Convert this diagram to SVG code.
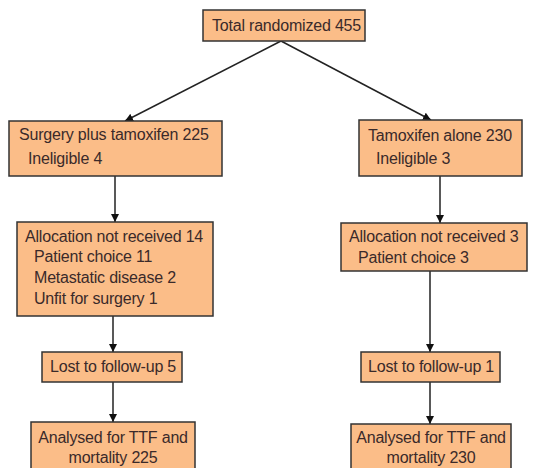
<svg xmlns="http://www.w3.org/2000/svg" width="535" height="468" viewBox="0 0 535 468">
<style>
.box{fill:#FBBD88;stroke:#333;stroke-width:1.5}
text{font-family:"Liberation Sans",Arial,sans-serif;font-size:16px;fill:#3a2a2a;letter-spacing:-0.2px}
.c{text-anchor:middle}
.ln{stroke:#222;stroke-width:1.5;fill:none;marker-end:url(#ah)}
</style>
<defs>
<marker id="ah" viewBox="0 0 10 10" refX="10" refY="5" markerWidth="8" markerHeight="8" markerUnits="userSpaceOnUse" orient="auto">
<path d="M0,0 L10,5 L0,10 z" fill="#111"/>
</marker>
</defs>
<g id="connectors">
<line class="ln" x1="281" y1="41" x2="125" y2="121"/>
<line class="ln" x1="281" y1="41" x2="431" y2="120"/>
<line class="ln" x1="115" y1="176" x2="115" y2="222"/>
<line class="ln" x1="440" y1="176" x2="440" y2="223"/>
<line class="ln" x1="113" y1="316" x2="113" y2="352"/>
<line class="ln" x1="430" y1="271" x2="430" y2="352"/>
<line class="ln" x1="113" y1="382" x2="113" y2="422"/>
<line class="ln" x1="430" y1="382" x2="430" y2="424"/>
</g>
<g id="n-total">
<rect class="box" x="203" y="10" width="162" height="31"/>
<text x="212" y="31">Total randomized 455</text>
</g>
<g id="n-surgery">
<rect class="box" x="9" y="121" width="213" height="55"/>
<text x="19" y="140">Surgery plus tamoxifen 225</text>
<text x="28" y="164">Ineligible 4</text>
</g>
<g id="n-tamoxifen">
<rect class="box" x="359" y="120" width="163" height="56"/>
<text x="368" y="141">Tamoxifen alone 230</text>
<text x="376" y="164">Ineligible 3</text>
</g>
<g id="n-alloc-left">
<rect class="box" x="17" y="222" width="196" height="94"/>
<text x="25" y="242">Allocation not received 14</text>
<text x="34" y="262">Patient choice 11</text>
<text x="34" y="283">Metastatic disease 2</text>
<text x="34" y="304">Unfit for surgery 1</text>
</g>
<g id="n-alloc-right">
<rect class="box" x="341" y="223" width="186" height="48"/>
<text x="349" y="242">Allocation not received 3</text>
<text x="358" y="263">Patient choice 3</text>
</g>
<g id="n-lost-left">
<rect class="box" x="42" y="352" width="140" height="30"/>
<text x="50" y="372">Lost to follow-up 5</text>
</g>
<g id="n-lost-right">
<rect class="box" x="361" y="352" width="139" height="30"/>
<text x="368" y="372">Lost to follow-up 1</text>
</g>
<g id="n-analysed-left">
<rect class="box" x="31" y="422" width="164" height="55"/>
<text class="c" x="113" y="443">Analysed for TTF and</text>
<text class="c" x="113" y="463">mortality 225</text>
</g>
<g id="n-analysed-right">
<rect class="box" x="351" y="424" width="160" height="55"/>
<text class="c" x="431" y="443">Analysed for TTF and</text>
<text class="c" x="431" y="463">mortality 230</text>
</g>
</svg>
